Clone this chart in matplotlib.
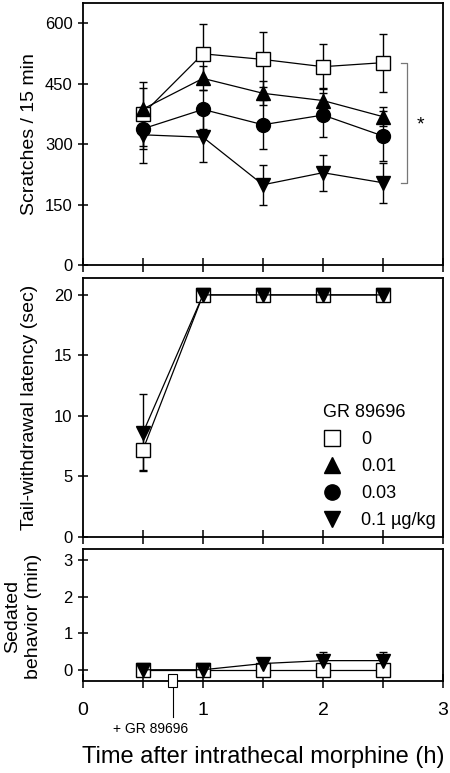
import numpy as np
import matplotlib
matplotlib.use('Agg')
import matplotlib.pyplot as plt
from matplotlib.lines import Line2D
from matplotlib.patches import Rectangle
import matplotlib.transforms as mtransforms

plt.rcParams['font.family'] = ['Liberation Sans', 'DejaVu Sans']

# time after intrathecal morphine (h)
time = np.array([0.5, 1.0, 1.5, 2.0, 2.5])
doses = ['0', '0.01', '0.03', '0.1 \u00b5g/kg']

# scratches / 15 min (mean, sem)
scratch_0 = [375, 524, 510, 492, 502]
scratch_0_err = [80, 73, 69, 56, 72]
scratch_001 = [387, 463, 426, 408, 368]
scratch_001_err = [52, 30, 30, 30, 23]
scratch_003 = [338, 386, 348, 372, 320]
scratch_003_err = [50, 48, 61, 54, 61]
scratch_01 = [323, 317, 199, 229, 204]
scratch_01_err = [70, 61, 50, 45, 50]

# tail-withdrawal latency (sec), only vehicle and 0.1 shown
latency_0 = [7.2, 20, 20, 20, 20]
latency_0_err = [1.7, 0, 0, 0, 0]
latency_01 = [8.6, 20, 20, 20, 20]
latency_01_err = [3.2, 0, 0, 0, 0]

# sedated behavior (min)
sedated_0 = [0, 0, 0, 0, 0]
sedated_0_err = [0, 0, 0, 0, 0]
sedated_01 = [0, 0, 0.17, 0.25, 0.25]
sedated_01_err = [0, 0, 0, 0.25, 0.25]

markers = ['s', '^', 'o', 'v']
faces = ['white', 'black', 'black', 'black']
sizes = [9.5, 9.5, 10, 9.5]

fig = plt.figure(figsize=(4.5, 7.73), dpi=100)
ax1 = fig.add_axes([0.1844, 0.6572, 0.80, 0.3389])
ax2 = fig.add_axes([0.1844, 0.3057, 0.80, 0.3347])
ax3 = fig.add_axes([0.1844, 0.1194, 0.80, 0.1700])


def draw(ax, series, errs, idx):
    for k, (y, e) in enumerate(zip(series, errs)):
        i = idx[k]
        y = np.array(y, dtype=float)
        ax.errorbar(time, y, yerr=e, fmt='none', ecolor='black',
                    elinewidth=1, capsize=3, capthick=1, zorder=2 + k * 0.1)
        ax.plot(time, y, '-', color='black', lw=0.9, marker=markers[i],
                ms=sizes[i], mfc=faces[i], mec='black', mew=1,
                zorder=3 + k * 0.1)


draw(ax1, [scratch_0, scratch_001, scratch_003, scratch_01],
     [scratch_0_err, scratch_001_err, scratch_003_err, scratch_01_err],
     [0, 1, 2, 3])
draw(ax2, [latency_0, latency_01], [latency_0_err, latency_01_err], [0, 3])
draw(ax3, [sedated_0, sedated_01], [sedated_0_err, sedated_01_err], [0, 3])

for ax in (ax1, ax2, ax3):
    ax.set_xlim(0, 3)
    ax.set_xticks(np.arange(0, 3.01, 0.5))
    ax.tick_params(axis='x', direction='inout', length=10, width=1.1)
    ax.tick_params(axis='y', direction='inout', length=7, width=1.1,
                   labelsize=12, pad=4)
    for s in ax.spines.values():
        s.set_linewidth(1.3)

ax1.set_ylim(0, 650)
ax1.set_yticks([0, 150, 300, 450, 600])
ax1.set_xticklabels([])
ax1.set_ylabel('Scratches / 15 min', fontsize=14)
ax1.yaxis.set_label_coords(-0.125, 0.5)

# significance bracket at the last time point
b_top, b_bot = scratch_0[-1], scratch_01[-1]
ax1.plot([2.65, 2.70, 2.70, 2.65], [b_top, b_top, b_bot, b_bot],
         color='#777777', lw=0.9)
ax1.text(2.81, (b_top + b_bot) / 2 - 5, '*', fontsize=14, ha='center', va='center')

ax2.set_ylim(0, 21.4)
ax2.set_yticks([0, 5, 10, 15, 20])
ax2.set_xticklabels([])
ax2.set_ylabel('Tail-withdrawal latency (sec)', fontsize=14)
ax2.yaxis.set_label_coords(-0.125, 0.5)

handles = [Line2D([], [], ls='none', marker=markers[i], ms=11,
                  mfc=faces[i], mec='black', mew=1) for i in range(4)]
leg = ax2.legend(handles, doses, title='GR 89696', loc='lower right',
                 frameon=False, fontsize=13, title_fontsize=13,
                 handlelength=1.0, handletextpad=1.1, labelspacing=0.56,
                 borderaxespad=0.05, borderpad=0.35)
leg._legend_box.align = 'left'

ax3.set_ylim(-0.3, 3.3)
ax3.set_yticks([0, 1, 2, 3])
ax3.set_xticklabels(['0', '', '1', '', '2', '', '3'], fontsize=14)
ax3.tick_params(axis='x', pad=10)
ax3.set_ylabel('Sedated\nbehavior (min)', fontsize=14, linespacing=1.3)
ax3.yaxis.set_label_coords(-0.114, 0.49)

# GR 89696 injection marker
trans = mtransforms.blended_transform_factory(ax3.transData, ax3.transAxes)
ax3.add_patch(Rectangle((0.75 - 0.0375, -0.05), 0.075, 0.10, transform=trans,
                        facecolor='white', edgecolor='black', lw=0.8,
                        clip_on=False, zorder=5))
ax3.plot([0.75, 0.75], [-0.05, -0.28], transform=trans, color='black',
         lw=0.8, clip_on=False)
ax3.text(0.56, -0.37, '+ GR 89696', transform=trans, fontsize=10,
         ha='center', va='center')

fig.text(0.584, 0.021, 'Time after intrathecal morphine (h)', fontsize=17,
         ha='center', va='center')

fig.savefig('out.png', dpi=100)
